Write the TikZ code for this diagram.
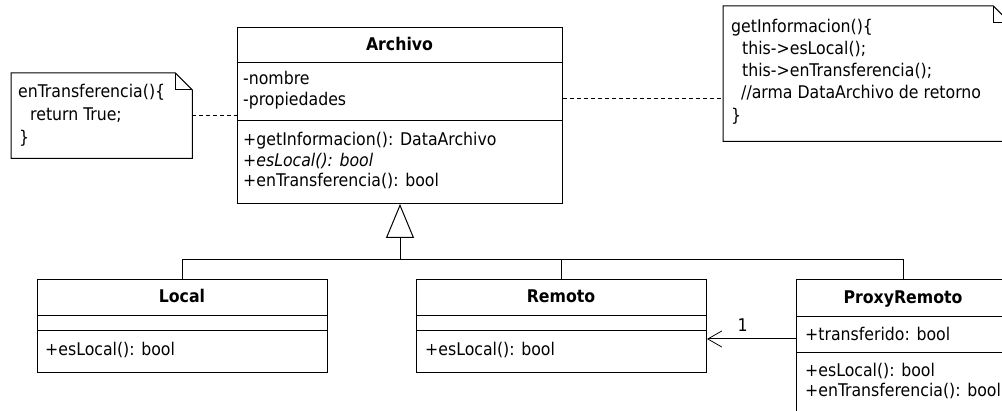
\documentclass[tikz,border=0pt]{standalone}
\usepackage{fontspec}
\setmainfont{DejaVu Sans Condensed}
\usetikzlibrary{arrows.meta,calc}
\begin{document}
\begin{tikzpicture}[x=1pt,y=-1pt,
  font=\fontsize{17.5}{20}\selectfont,
  classbox/.style={draw, line width=1pt, rectangle, anchor=north west, inner sep=0pt},
  notebox/.style={rectangle, anchor=north west, inner sep=0pt},
  txt/.style={anchor=base west, inner sep=0pt},
  ttl/.style={anchor=base, inner sep=0pt, font=\fontsize{17.5}{20}\selectfont\bfseries},
  link/.style={line width=1pt},
  depend/.style={line width=1pt, dash pattern=on 4pt off 3pt}]

\useasboundingbox (0,0) rectangle (1002,411);
\fill[white] (0,0) rectangle (1002,411);
\clip (0,0) rectangle (1002,411);

% ---------- class Archivo ----------
\node[classbox, minimum width=325pt, minimum height=176pt] (archivo) at (237,27) {};
\draw[link] ($(archivo.north west)+(0,36)$) -- ($(archivo.north east)+(0,36)$);
\draw[link] ($(archivo.north west)+(0,94)$) -- ($(archivo.north east)+(0,94)$);
\node[ttl] (archivoT) at (399.5,51) {Archivo};
\node[txt] (aAt1) at (243,85) {-nombre};
\node[txt] (aAt2) at (243,106) {-propiedades};
\node[txt] (aOp1) at (243,146) {+getInformacion(): DataArchivo};
\node[txt] (aOp2) at (243,167) {\itshape +esLocal(): bool};
\node[txt] (aOp3) at (243,187) {+enTransferencia(): bool};

% ---------- class Local ----------
\node[classbox, minimum width=290pt, minimum height=93pt] (local) at (37,279) {};
\draw[link] ($(local.north west)+(0,37)$) -- ($(local.north east)+(0,37)$);
\draw[link] ($(local.north west)+(0,52)$) -- ($(local.north east)+(0,52)$);
\node[ttl] (localT) at (182,303) {Local};
\node[txt] (lOp1) at (45,356) {+esLocal(): bool};

% ---------- class Remoto ----------
\node[classbox, minimum width=290pt, minimum height=93pt] (remoto) at (416,279) {};
\draw[link] ($(remoto.north west)+(0,37)$) -- ($(remoto.north east)+(0,37)$);
\draw[link] ($(remoto.north west)+(0,52)$) -- ($(remoto.north east)+(0,52)$);
\node[ttl] (remotoT) at (561,303) {Remoto};
\node[txt] (rOp1) at (425,356) {+esLocal(): bool};

% ---------- class ProxyRemoto ----------
\node[classbox, minimum width=214pt, minimum height=150pt] (proxy) at (796,279) {};
\draw[link] ($(proxy.north west)+(0,38)$) -- ($(proxy.north east)+(0,38)$);
\draw[link] ($(proxy.north west)+(0,74)$) -- ($(proxy.north east)+(0,74)$);
\node[ttl] (proxyT) at (903,304) {ProxyRemoto};
\node[txt] (pAt1) at (805,341) {+transferido: bool};
\node[txt] (pOp1) at (805,377) {+esLocal(): bool};
\node[txt] (pOp2) at (805,397) {+enTransferencia(): bool};

% ---------- notes ----------
\node[notebox, minimum width=181pt, minimum height=85pt] (noteL) at (11,73) {};
\draw[link] (noteL.north west) -- ($(noteL.north east)+(-17,0)$) -- ($(noteL.north east)+(0,17)$)
  -- (noteL.south east) -- (noteL.south west) -- cycle;
\draw[link] ($(noteL.north east)+(-17,0)$) -- ($(noteL.north east)+(-17,17)$) -- ($(noteL.north east)+(0,17)$);
\node[txt] (nL1) at (18,98) {enTransferencia()\{};
\node[txt] (nL2) at (30,121) {return True;};
\node[txt] (nL3) at (19,144) {\}};

\node[notebox, minimum width=287pt, minimum height=135pt] (noteR) at (723,6) {};
\draw[link] (noteR.north west) -- ($(noteR.north east)+(-17,0)$) -- ($(noteR.north east)+(0,17)$)
  -- (noteR.south east) -- (noteR.south west) -- cycle;
\draw[link] ($(noteR.north east)+(-17,0)$) -- ($(noteR.north east)+(-17,17)$) -- ($(noteR.north east)+(0,17)$);
\node[txt] (nR1) at (731,33) {getInformacion()\{};
\node[txt] (nR2) at (742,55) {this->esLocal();};
\node[txt] (nR3) at (742,77) {this->enTransferencia();};
\node[txt] (nR4) at (741,99) {//arma DataArchivo de retorno};
\node[txt] (nR5) at (731,122) {\}};

% ---------- note attachments ----------
\draw[depend] (noteL.east) -- (noteL.east -| archivo.west);
\coordinate (dR) at ($(archivo.north east)+(0,72)$);
\draw[depend] (dR) -- (dR -| noteR.west);

% ---------- generalization ----------
\coordinate (bus) at ($(archivo.south)+(0,56)$);
\draw[link] (local.north) -- (local.north |- bus) -- (proxy.north |- bus) -- (proxy.north);
\draw[link] (remoto.north) -- (remoto.north |- bus);
\draw[link, -{Triangle[open, width=28pt, length=34pt]}] (archivo.south |- bus) -- (archivo.south);

% ---------- association ----------
\coordinate (pa) at ($(proxy.north west)+(0,60)$);
\draw[link, -{Straight Barb[length=14pt, width=16pt, line width=0.8pt]}] (pa) -- (pa -| remoto.east)
  node[pos=0.6, above=7pt, inner sep=0pt] (mult) {1};

\end{tikzpicture}
\end{document}
